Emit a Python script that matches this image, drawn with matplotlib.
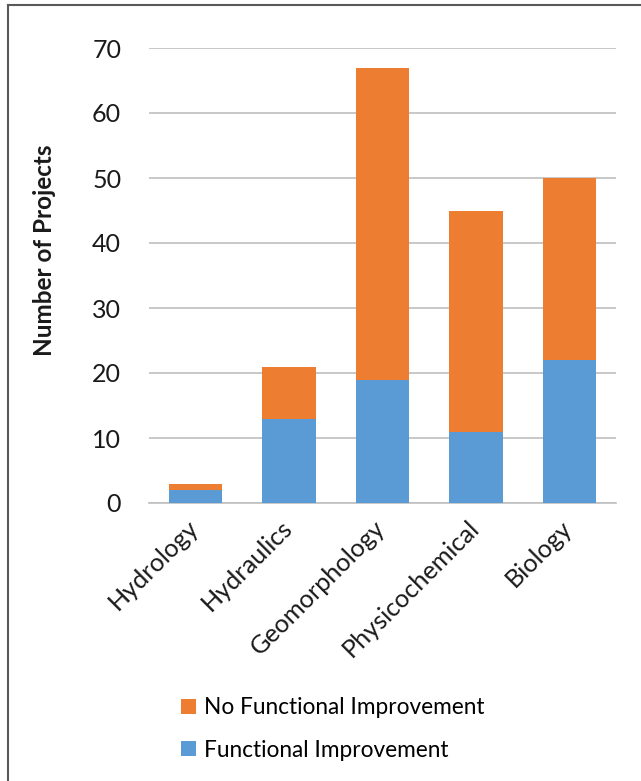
import matplotlib
matplotlib.use("Agg")
import matplotlib.pyplot as plt
import matplotlib.transforms as mtransforms
from matplotlib.lines import Line2D
from matplotlib.patches import Patch

categories = ["Hydrology", "Hydraulics", "Geomorphology", "Physicochemical", "Biology"]
functional = [2, 13, 19, 11, 22]
no_functional = [1, 8, 48, 34, 28]
yticks = [0, 10, 20, 30, 40, 50, 60, 70]

BLUE = "#5B9BD5"
ORANGE = "#ED7D31"
FONT = ["Lato", "DejaVu Sans"]

plt.rcParams["font.family"] = FONT

W, H = 641, 781
fig = plt.figure(figsize=(W / 100, H / 100), dpi=100)
ax = fig.add_axes([149 / W, 1 - 503 / H, (616 - 149) / W, (503 - 48) / H])

x = list(range(len(categories)))
ax.bar(x, functional, width=0.57, color=BLUE, zorder=3, label="Functional Improvement")
ax.bar(x, no_functional, width=0.57, bottom=functional, color=ORANGE, zorder=3,
       label="No Functional Improvement")

ax.set_xlim(-0.5, len(categories) - 0.5)
ax.set_ylim(0, 70)
ax.set_yticks(yticks)
ax.set_yticklabels([str(v) for v in yticks], fontsize=18, color="#1a1a1a")
ax.yaxis.grid(True, color="#BFBFBF", linewidth=1.2, zorder=0)
ax.tick_params(axis="y", length=0, pad=20)
ax.tick_params(axis="x", length=0, pad=2)
ax.set_xticks(x)
ax.set_xticklabels(categories, rotation=45, ha="right", va="top", rotation_mode="anchor",
                   fontsize=18.2, color="#1a1a1a")
shift = mtransforms.ScaledTranslation(-9 / 100, -10 / 100, fig.dpi_scale_trans)
for lbl in ax.get_xticklabels():
    lbl.set_transform(lbl.get_transform() + shift)
for s in ["top", "right", "left"]:
    ax.spines[s].set_visible(False)
ax.spines["bottom"].set_color("#BFBFBF")
ax.spines["bottom"].set_linewidth(1.2)

ax.set_ylabel("Number of Projects", fontsize=17.5, fontweight="bold", color="#1a1a1a")
ax.yaxis.set_label_coords(-(149 - 56) / (616 - 149), (503 - 250) / (503 - 48))

handles = [Patch(facecolor=ORANGE, edgecolor="none"), Patch(facecolor=BLUE, edgecolor="none")]
fig.legend(handles, ["No Functional Improvement", "Functional Improvement"],
           loc="upper left", bbox_to_anchor=(172 / W, 1 - 688 / H), frameon=False,
           fontsize=16.3, handlelength=0.65, handleheight=0.65, handletextpad=0.35,
           labelspacing=0.95, borderaxespad=0)

# outer frame
fig.add_artist(Line2D([8 / W, 1], [1 - 5 / H, 1 - 5 / H], transform=fig.transFigure,
                      color="#595959", linewidth=1.5))
fig.add_artist(Line2D([8 / W, 8 / W], [0, 1 - 5 / H], transform=fig.transFigure,
                      color="#595959", linewidth=1.5))

fig.savefig("out.png", dpi=100, facecolor="white")
